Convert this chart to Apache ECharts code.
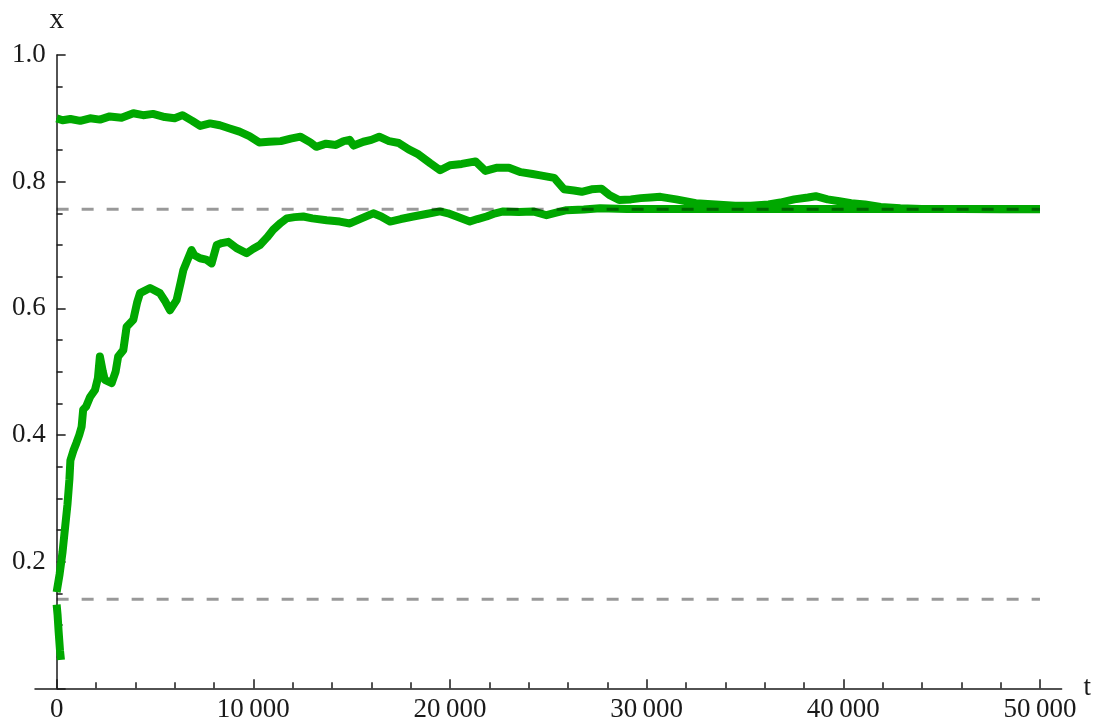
<!DOCTYPE html>
<html>
<head>
<meta charset="utf-8">
<script src="https://cdn.jsdelivr.net/npm/echarts@6/dist/echarts.min.js"></script>
<style>
html,body{margin:0;padding:0;background:#fff;}
#main{width:1098px;height:722px;}
</style>
</head>
<body>
<div id="main"></div>
<script>
// ---- data ----
const upperT = [0,300,700,1200,1700,2200,2700,3300,3900,4400,4900,5500,6000,6400,6900,7300,7800,8300,8800,9300,9800,10300,10800,11400,11900,12400,12900,13200,13700,14200,14600,14900,15100,15600,16000,16400,16900,17400,17900,18400,19000,19500,20000,20600,21300,21800,22400,23000,23600,24200,24600,25300,25800,26300,26700,27200,27700,28100,28600,29200,29700,30200,30700,31500,32500,33500,34500,35300,36200,36800,37500,38200,38600,39200,39800,40400,41100,41900,42900,44000,46000,48000,50000];
const upperX = [0.900,0.897,0.899,0.896,0.900,0.898,0.903,0.901,0.908,0.905,0.907,0.902,0.900,0.905,0.896,0.888,0.892,0.889,0.884,0.879,0.872,0.862,0.863,0.864,0.868,0.871,0.862,0.855,0.860,0.858,0.864,0.866,0.857,0.863,0.866,0.871,0.864,0.861,0.851,0.843,0.829,0.818,0.826,0.828,0.832,0.817,0.822,0.822,0.815,0.812,0.810,0.806,0.788,0.786,0.784,0.788,0.789,0.779,0.771,0.772,0.774,0.775,0.776,0.772,0.766,0.764,0.762,0.762,0.764,0.767,0.772,0.775,0.777,0.772,0.769,0.766,0.764,0.760,0.758,0.757,0.757,0.7565,0.7565];

const lowerT = [0,150,300,450,550,650,700,850,1000,1150,1270,1350,1500,1700,1950,2100,2200,2350,2450,2800,3000,3130,3390,3560,3900,4100,4240,4750,5250,5500,5760,6100,6300,6440,6860,7000,7290,7600,7880,8140,8400,8730,9150,9660,10000,10340,10700,11010,11400,11700,12100,12540,13000,13730,14400,14910,15500,16100,16500,16950,17500,18130,18800,19490,19900,20340,21010,21400,21860,22300,22710,23500,24230,24910,25400,25930,26800,27630,29000,32000,36000,40000,45000,50000];
const lowerX = [0.152,0.18,0.215,0.26,0.29,0.33,0.36,0.375,0.387,0.40,0.413,0.44,0.445,0.46,0.471,0.49,0.524,0.50,0.487,0.482,0.50,0.524,0.534,0.571,0.582,0.61,0.624,0.632,0.624,0.612,0.597,0.613,0.64,0.660,0.692,0.684,0.679,0.677,0.671,0.700,0.703,0.705,0.695,0.687,0.694,0.700,0.712,0.724,0.735,0.742,0.744,0.745,0.742,0.739,0.737,0.734,0.742,0.750,0.745,0.737,0.741,0.745,0.749,0.753,0.750,0.745,0.737,0.741,0.745,0.750,0.753,0.752,0.753,0.747,0.751,0.755,0.756,0.758,0.757,0.757,0.757,0.757,0.757,0.757];

const dropT = [0,50,100,170,220];
const dropX = [0.132,0.115,0.09,0.06,0.045];

const fixedPoints = [0.7564, 0.1405];
const fixedRange = [0, 50000];

const xMajorTicks = [0,10000,20000,30000,40000,50000];
const xMinorTicks = [2000,4000,6000,8000,12000,14000,16000,18000,22000,24000,26000,28000,32000,34000,36000,38000,42000,44000,46000,48000];
const yTickLabels = ['0.2','0.4','0.6','0.8','1.0'];

// ---- chart ----
const zip = (a, b) => a.map((v, i) => [v, b[i]]);
const FONT = 'Liberation Serif';
const GREEN = '#00a800';
const AXIS = '#1a1a1a';
const X_MIN = -1100, X_MAX = 51100;
const GRID_LEFT = 35, GRID_RIGHT = 36.4;
const plotW = 1098 - GRID_LEFT - GRID_RIGHT;
// shift the y axis so that it sits at t = 0
const yAxisOffset = -(0 - X_MIN) / (X_MAX - X_MIN) * plotW;

const greenSeries = [zip(upperT, upperX), zip(lowerT, lowerX), zip(dropT, dropX)].map(d => ({
  type: 'line', data: d, showSymbol: false, xAxisIndex: 0,
  lineStyle: { color: GREEN, width: 8, join: 'round', cap: 'butt' },
  z: 2, silent: true
}));
const dashSeries = fixedPoints.map(v => ({
  type: 'line', data: fixedRange.map(t => [t, v]), showSymbol: false, xAxisIndex: 0,
  lineStyle: { color: 'rgba(0,0,0,0.4)', width: 3, type: [12, 13] },
  z: 3, silent: true
}));

const chart = echarts.init(document.getElementById('main'), null, { renderer: 'canvas' });
chart.setOption({
  animation: false,
  backgroundColor: '#fff',
  grid: { left: GRID_LEFT, right: GRID_RIGHT, top: 55, bottom: 33.7, containLabel: false, outerBoundsMode: 'none' },
  xAxis: [{
    type: 'value', min: X_MIN, max: X_MAX,
    name: 't', nameLocation: 'end', nameGap: 22,
    nameTextStyle: { fontFamily: FONT, fontSize: 27, color: AXIS, verticalAlign: 'middle', padding: [0,0,4,0] },
    axisLine: { show: true, onZero: true, lineStyle: { color: AXIS, width: 1.5 } },
    axisTick: { show: true, inside: true, length: 9, lineStyle: { color: AXIS, width: 1.5 }, customValues: xMajorTicks },
    axisLabel: { show: true, customValues: xMajorTicks, margin: 8, fontFamily: FONT, fontSize: 27, color: AXIS,
      formatter: v => String(v).replace(/(\d)(?=(\d{3})+$)/g, '$1\u2009') },
    splitLine: { show: false }
  }, {
    type: 'value', min: X_MIN, max: X_MAX, position: 'bottom',
    axisLine: { show: false },
    axisTick: { show: true, inside: true, length: 6, lineStyle: { color: AXIS, width: 1.5 }, customValues: xMinorTicks },
    axisLabel: { show: false },
    splitLine: { show: false }
  }],
  yAxis: {
    type: 'value', min: 0, max: 1, interval: 0.2, position: 'left', offset: yAxisOffset,
    name: 'x', nameLocation: 'end', nameGap: 20,
    nameTextStyle: { fontFamily: FONT, fontSize: 29, color: AXIS, align: 'center' },
    axisLine: { show: true, onZero: false, lineStyle: { color: AXIS, width: 1.5 } },
    axisTick: { show: true, inside: true, length: 9, lineStyle: { color: AXIS, width: 1.5 } },
    minorTick: { show: true, splitNumber: 4, length: 6, lineStyle: { color: AXIS, width: 1.5 } },
    axisLabel: { margin: 11, fontFamily: FONT, fontSize: 27, color: AXIS,
      formatter: v => { const s = v.toFixed(1); return yTickLabels.includes(s) ? s : ''; } },
    splitLine: { show: false },
    minorSplitLine: { show: false }
  },
  series: [...greenSeries, ...dashSeries]
});
</script>
</body>
</html>
